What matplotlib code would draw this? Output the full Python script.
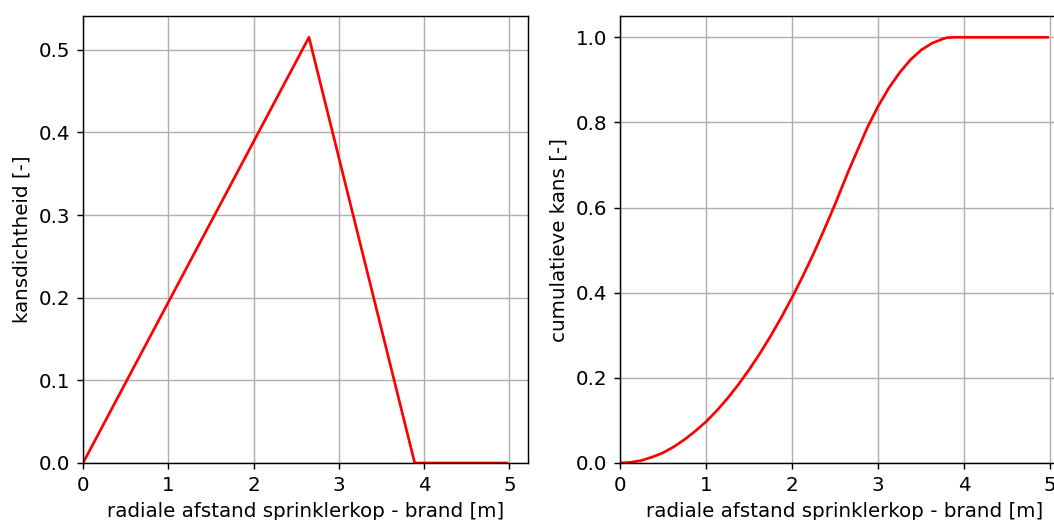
import matplotlib
matplotlib.use('Agg')
import matplotlib.pyplot as plt

pdf_x = [0.0, 2.65, 3.89, 4.97]
pdf_y = [0.0, 0.515, 0.0, 0.0]

cdf_x = [0.0, 0.125, 0.25, 0.375, 0.5, 0.625, 0.75, 0.875, 1.0, 1.125, 1.25,
         1.375, 1.5, 1.625, 1.75, 1.875, 2.0, 2.125, 2.25, 2.375, 2.5, 2.65,
         2.75, 2.875, 3.0, 3.125, 3.25, 3.375, 3.5, 3.625, 3.75, 3.8, 3.89,
         4.97]
cdf_y = [0.0, 0.0015, 0.006, 0.014, 0.024, 0.038, 0.055, 0.075, 0.097, 0.123,
         0.152, 0.184, 0.219, 0.257, 0.298, 0.342, 0.389, 0.439, 0.492, 0.549,
         0.608, 0.683, 0.730, 0.788, 0.838, 0.881, 0.917, 0.947, 0.970, 0.986,
         0.996, 0.999, 1.0, 1.0]

xlabel = 'radiale afstand sprinklerkop - brand [m]'

W, H = 1054, 520
fig = plt.figure(figsize=(W / 130, H / 130), dpi=130)

ax1 = fig.add_axes([83 / W, (H - 463) / H, 445 / W, 447 / H])
ax1.plot(pdf_x, pdf_y, color='red')
ax1.set_xlim(left=0)
ax1.set_ylim(bottom=0)
ax1.set_xticks([0, 1, 2, 3, 4, 5])
ax1.set_xlabel(xlabel, fontsize=11)
ax1.set_ylabel('kansdichtheid [-]', fontsize=11)
ax1.grid(True)

ax2 = fig.add_axes([620 / W, (H - 463) / H, 449 / W, 447 / H])
ax2.plot(cdf_x, cdf_y, color='red')
ax2.set_xlim(left=0)
ax2.set_ylim(bottom=0)
ax2.set_xticks([0, 1, 2, 3, 4, 5])
ax2.set_xlabel(xlabel, fontsize=11)
ax2.set_ylabel('cumulatieve kans [-]', fontsize=11)
ax2.grid(True)

for ax in (ax1, ax2):
    ax.tick_params(labelsize=11)

fig.savefig('out.png', dpi=130)
